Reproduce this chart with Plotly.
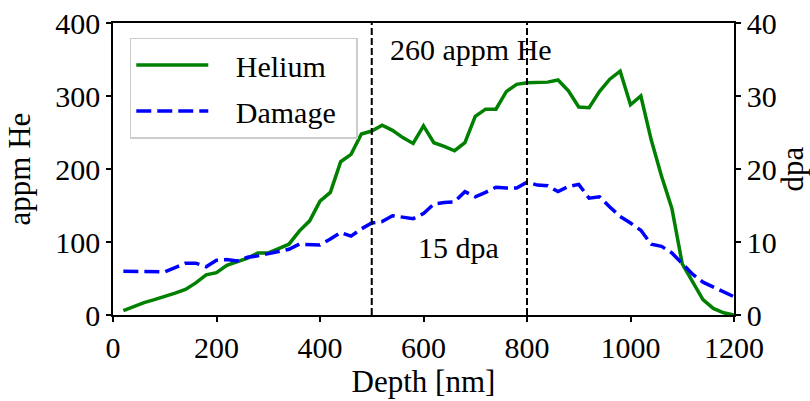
import plotly.graph_objects as go

depth = [20, 40, 60, 80, 100, 120, 140, 160, 180, 200, 220, 240, 260, 280, 300,
         320, 340, 360, 380, 400, 420, 440, 460, 480, 500, 520, 540, 560, 580, 600,
         620, 640, 660, 680, 700, 720, 740, 760, 780, 800, 820, 840, 860, 880, 900,
         920, 940, 960, 980, 1000, 1020, 1040, 1060, 1080, 1100, 1120, 1140, 1160, 1180, 1200]

helium_appm = [6, 12, 17, 21, 25, 30, 35, 44, 55, 58, 68, 73, 78, 85, 85,
               91, 97, 115, 129, 156, 168, 210, 220, 248, 252, 260, 253, 243, 235, 259,
               236, 231, 225, 236, 272, 282, 282, 306, 316, 318, 319, 319, 322, 307, 285,
               284, 306, 323, 334, 288, 300, 240, 190, 146, 70, 45, 21, 9, 3, 0]

damage_dpa = [6.0, 6.0, 6.0, 6.0, 5.9, 6.5, 7.1, 7.1, 6.6, 7.5, 7.6, 7.4, 7.9, 8.1, 8.4,
              8.7, 9.0, 9.7, 9.7, 9.6, 10.4, 11.3, 10.8, 11.8, 12.6, 12.8, 13.6, 13.4, 13.2, 13.9,
              15.2, 15.4, 15.5, 16.9, 16.2, 16.8, 17.5, 17.4, 17.4, 18.2, 17.8, 17.7, 16.9, 17.6, 17.9,
              16.0, 16.2, 14.8, 13.5, 12.6, 11.6, 9.7, 9.4, 8.5, 7.1, 5.6, 4.5, 3.8, 3.1, 2.5]

marker_depths = [500, 800]
x_ticks = [0, 200, 400, 600, 800, 1000, 1200]
y_ticks = [0, 100, 200, 300, 400]
y2_ticks = [0, 10, 20, 30, 40]

FONT = "Liberation Serif"
FS = 30
FT = 31
NB = "\u00a0"

fig = go.Figure()
fig.add_trace(go.Scatter(x=depth, y=helium_appm, mode="lines", name=NB * 3 + "Helium" + NB * 2,
                         legendgroup="he",
                         line=dict(color="#008000", width=3.5)))
fig.add_trace(go.Scatter(x=depth, y=damage_dpa, mode="lines", name=NB * 3 + "Damage" + NB * 2,
                         legendgroup="dmg", yaxis="y2",
                         line=dict(color="#0000ff", width=3.5, dash="15px,6px")))

for d in marker_depths:
    fig.add_shape(type="line", xref="x", yref="paper", x0=d, x1=d, y0=0, y1=1,
                  line=dict(color="black", width=2, dash="7px,3px"))

fig.add_annotation(x=691, y=364, xref="x", yref="y", text="260 appm He", showarrow=False,
                   font=dict(family=FONT, size=FS, color="black"))
fig.add_annotation(x=668, y=93, xref="x", yref="y", text="15 dpa", showarrow=False,
                   font=dict(family=FONT, size=FS, color="black"))

axis_common = dict(showline=True, linecolor="black", linewidth=1.5, ticks="outside",
                   ticklen=5, tickwidth=1.5, tickcolor="black", showgrid=False, zeroline=False,
                   automargin=False,
                   tickfont=dict(family=FONT, size=FS, color="black"))

fig.update_layout(
    width=810, height=401,
    margin=dict(l=113, r=76, t=23, b=86, autoexpand=False),
    paper_bgcolor="white", plot_bgcolor="white",
    font=dict(family=FONT, size=FS, color="black"),
    xaxis=dict(range=[0, 1200], tickvals=x_ticks, mirror=True,
               title=dict(text="Depth [nm]", font=dict(family=FONT, size=FT), standoff=4),
               **axis_common),
    yaxis=dict(range=[0, 400], tickvals=y_ticks,
               title=dict(text="appm He", font=dict(family=FONT, size=FT), standoff=15),
               **axis_common),
    yaxis2=dict(range=[0, 40], tickvals=y2_ticks, overlaying="y", side="right",
                title=dict(text="dpa", font=dict(family=FONT, size=FT), standoff=0),
                **axis_common),
    legend=dict(x=0.027, y=0.95, xanchor="left", yanchor="top",
                bgcolor="rgba(255,255,255,0.8)", bordercolor="#cccccc", borderwidth=1.5,
                font=dict(family=FONT, size=FS), itemwidth=72,
                traceorder="grouped", tracegroupgap=4),
    showlegend=True,
)

fig.write_html("out.html")
